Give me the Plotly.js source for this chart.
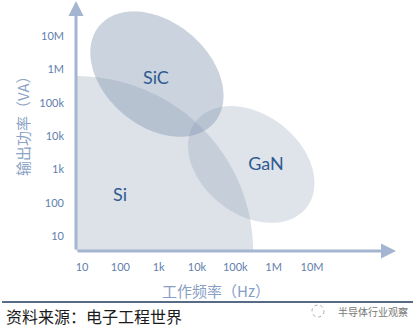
<!DOCTYPE html>
<html>
<head>
<meta charset="utf-8">
<script src="https://cdn.plot.ly/plotly-3.0.1.min.js"></script>
<style>html,body{margin:0;padding:0;background:#fff;}#chart{width:419px;height:329px;}</style>
</head>
<body>
<div id="chart"></div>
<script>
// ---- data ----
const tickValsHz = [10, 100, 1e3, 1e4, 1e5, 1e6, 1e7];
const tickTextHz = ['10', '100', '1k', '10k', '100k', '1M', '10M'];
const tickValsVA = [10, 100, 1e3, 1e4, 1e5, 1e6, 1e7];
const tickTextVA = ['10', '100', '1k', '10k', '100k', '1M', '10M'];

const materials = ['Si', 'SiC', 'GaN'];
// Si: region from the axes origin up to these limits
const siMaxFreqHz = 2.9e5;
const siMaxPowerVA = 6.3e5;
// SiC / GaN: centre of the elliptical region
const ellipseNames = ['SiC', 'GaN'];
const ellipseCenterFreqHz = [9.0e2, 2.6e5];
const ellipseCenterPowerVA = [7.2e5, 1.4e3];
// semi axes (in decades of frequency) and tilt (degrees)
const ellipseMajorDec = [1.96, 1.83];
const ellipseMinorDec = [1.36, 1.30];
const ellipseTiltDeg = [40, 38];
// label positions
const labelFreqHz = [98, 8.5e2, 6.3e5];
const labelPowerVA = [148, 5.1e5, 1.26e3];

// ---- layout geometry ----
const xRange = [0.8435, 9.192];
const yRange = [0.55, 8.08];
const plotW = 320, plotH = 251;
const pxX = plotW / (xRange[1] - xRange[0]);
const pxY = plotH / (yRange[1] - yRange[0]);

function ellipsePts(cf, cp, aDec, bDec, tiltDeg) {
  const a = aDec * pxX, b = bDec * pxX, th = tiltDeg * Math.PI / 180;
  const clx = Math.log10(cf), cly = Math.log10(cp);
  const xs = [], ys = [];
  for (let i = 0; i <= 180; i++) {
    const t = i / 180 * 2 * Math.PI;
    const dx = a * Math.cos(t) * Math.cos(th) - b * Math.sin(t) * Math.sin(th);
    const dy = a * Math.cos(t) * Math.sin(th) + b * Math.sin(t) * Math.cos(th);
    xs.push(Math.pow(10, clx + dx / pxX));
    ys.push(Math.pow(10, cly - dy / pxY));
  }
  return [xs, ys];
}
function quarterPts(maxF, maxP) {
  const x0 = xRange[0], y0 = yRange[0];
  const rx = Math.log10(maxF) - x0, ry = Math.log10(maxP) - y0;
  const xs = [Math.pow(10, x0)], ys = [Math.pow(10, y0)];
  for (let i = 0; i <= 90; i++) {
    const t = i / 90 * Math.PI / 2;
    xs.push(Math.pow(10, x0 + rx * Math.sin(t)));
    ys.push(Math.pow(10, y0 + ry * Math.cos(t)));
  }
  xs.push(Math.pow(10, x0)); ys.push(Math.pow(10, y0));
  return [xs, ys];
}

const base = '132,151,176';
const fills = {Si: 'rgba(' + base + ',0.28)', SiC: 'rgba(' + base + ',0.42)', GaN: 'rgba(' + base + ',0.26)'};
const noLine = {width: 0, color: 'rgba(0,0,0,0)'};

const traces = [];
const si = quarterPts(siMaxFreqHz, siMaxPowerVA);
traces.push({x: si[0], y: si[1], type: 'scatter', mode: 'none', fill: 'toself',
  fillcolor: fills.Si, line: noLine, hoverinfo: 'skip', name: 'Si'});
ellipseNames.forEach((n, i) => {
  const p = ellipsePts(ellipseCenterFreqHz[i], ellipseCenterPowerVA[i], ellipseMajorDec[i], ellipseMinorDec[i], ellipseTiltDeg[i]);
  traces.push({x: p[0], y: p[1], type: 'scatter', mode: 'none', fill: 'toself',
    fillcolor: fills[n], line: noLine, hoverinfo: 'skip', name: n});
});
traces.push({x: labelFreqHz, y: labelPowerVA, text: materials, type: 'scatter', mode: 'text',
  textfont: {family: 'Lato, sans-serif', size: 18, color: '#2f5a90'}, hoverinfo: 'skip'});

const axisColor = '#a3b5d0';
function px2paperX(px) { return (px - 76) / plotW; }
function px2paperY(py) { return (plotH - py) / plotH; }

const layout = {
  width: 419, height: 329,
  margin: {l: 76, r: 23, t: 0, b: 78},
  paper_bgcolor: '#fff', plot_bgcolor: 'rgba(0,0,0,0)',
  showlegend: false,
  xaxis: {type: 'log', range: xRange, tickvals: tickValsHz, ticktext: tickTextHz,
    showgrid: false, zeroline: false, showline: false, ticks: '', ticklabelstandoff: 8,
    tickfont: {family: 'Lato, sans-serif', size: 11, color: '#5f80ad'}, fixedrange: true},
  yaxis: {type: 'log', range: yRange, tickvals: tickValsVA, ticktext: tickTextVA,
    showgrid: false, zeroline: false, showline: false, ticks: '', ticklabelstandoff: 11,
    tickfont: {family: 'Lato, sans-serif', size: 11, color: '#5f80ad'}, fixedrange: true},
  annotations: [
    {xref: 'paper', yref: 'paper', x: 0, y: 1, ax: 0, ay: plotH, axref: 'pixel', ayref: 'pixel',
      text: '', showarrow: true, arrowhead: 2, arrowsize: 1, arrowwidth: 3, arrowcolor: axisColor, standoff: 0},
    {xref: 'paper', yref: 'paper', x: 1, y: 0, ax: -plotW, ay: 0, axref: 'pixel', ayref: 'pixel',
      text: '', showarrow: true, arrowhead: 2, arrowsize: 1, arrowwidth: 3, arrowcolor: axisColor, standoff: 0},
    {xref: 'paper', yref: 'paper', x: px2paperX(216), y: px2paperY(290), xanchor: 'center', yanchor: 'middle',
      text: '工作频率（Hz）', showarrow: false,
      font: {family: '"Noto Sans CJK SC", sans-serif', size: 15, color: '#87a0c4'}},
    {xref: 'paper', yref: 'paper', x: px2paperX(22), y: px2paperY(122), xanchor: 'center', yanchor: 'middle',
      text: '输出功率（VA）', textangle: -90, showarrow: false,
      font: {family: '"Noto Sans CJK SC", sans-serif', size: 15, color: '#8ca3c6'}},
    {xref: 'paper', yref: 'paper', x: px2paperX(4), y: px2paperY(316), xanchor: 'left', yanchor: 'middle',
      text: '资料来源：电子工程世界', showarrow: false,
      font: {family: '"Noto Sans CJK SC", sans-serif', size: 16, color: '#1a1a1a'}},
    {xref: 'paper', yref: 'paper', x: px2paperX(373), y: px2paperY(311), xanchor: 'center', yanchor: 'middle',
      text: '半导体行业观察', showarrow: false,
      font: {family: '"Noto Sans CJK SC", sans-serif', size: 10, color: '#777'}}
  ],
  shapes: [
    {type: 'line', xref: 'paper', yref: 'paper', x0: px2paperX(2), x1: px2paperX(413),
      y0: px2paperY(302), y1: px2paperY(302), line: {color: '#1f3a5f', width: 1.5}},
    {type: 'circle', xref: 'paper', yref: 'paper', x0: px2paperX(312), x1: px2paperX(324),
      y0: px2paperY(305), y1: px2paperY(317), line: {color: '#aaa', width: 1, dash: 'dot'}}
  ]
};

Plotly.newPlot('chart', traces, layout, {displayModeBar: false, staticPlot: true});
</script>
</body>
</html>
